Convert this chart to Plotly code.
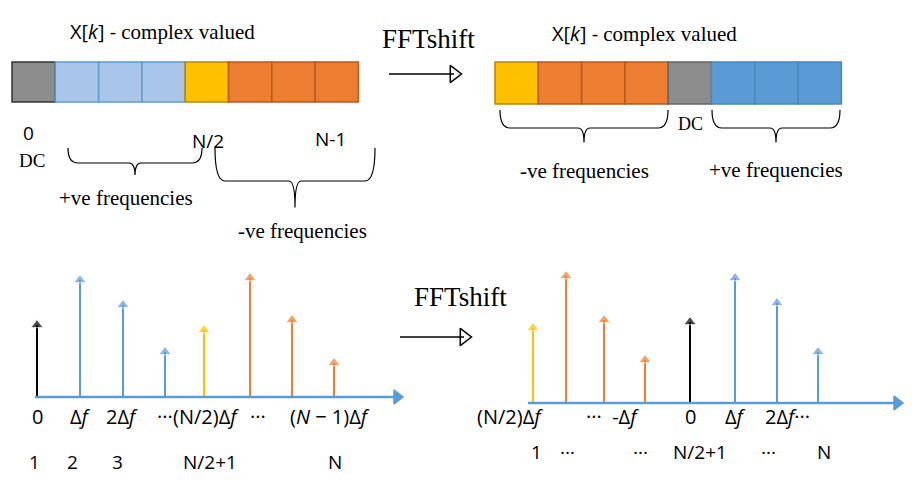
import plotly.graph_objects as go

# spectrum blocks (colour of each bin, before and after shift)
cells_before = ["#8c8c8c", "#a9c6e8", "#a9c6e8", "#a9c6e8", "#ffc000", "#ed7d31", "#ed7d31", "#ed7d31"]
cells_after = ["#ffc000", "#ed7d31", "#ed7d31", "#ed7d31", "#8c8c8c", "#5b9bd5", "#5b9bd5", "#5b9bd5"]
edges_before = ["#333333", "#5b9bd5", "#5b9bd5", "#5b9bd5", "#b8860b", "#b55a22", "#b55a22", "#b55a22"]
edges_after = ["#b8860b", "#b55a22", "#b55a22", "#b55a22", "#666666", "#4a86c0", "#4a86c0", "#4a86c0"]

# stem plots: positions and heights (pixel units)
stem_x_before = [37, 80, 123, 165, 204, 250, 292, 334]
stem_h_before = [72, 117, 92, 45, 67, 119, 77, 34]
stem_c_before = ["black", "#5b9bd5", "#5b9bd5", "#5b9bd5", "#ffc000", "#ed7d31", "#ed7d31", "#ed7d31"]
stem_x_after = [533, 566, 604, 645, 690, 735, 777, 818]
stem_h_after = [75, 127, 83, 43, 81, 125, 100, 51]
stem_c_after = ["#ffc000", "#ed7d31", "#ed7d31", "#ed7d31", "black", "#5b9bd5", "#5b9bd5", "#5b9bd5"]

SERIF = "Liberation Serif"
SANS = "Open Sans"

fig = go.Figure()
shapes = []
ann = []

def add_cells(x0, colors, edges, y0, y1, w=43.3):
    for i, (c, e) in enumerate(zip(colors, edges)):
        shapes.append(dict(type="rect", x0=x0 + i * w, x1=x0 + (i + 1) * w, y0=y0, y1=y1,
                           fillcolor=c, line=dict(color=e, width=1.5)))

add_cells(12, cells_before, edges_before, 62, 102)
add_cells(495, cells_after, edges_after, 62, 104)

def brace(x0, x1, y, d=14, up=False):
    m = (x0 + x1) / 2
    s = -1 if up else 1
    p = (f"M {x0},{y} Q {x0},{y+s*d} {x0+10},{y+s*d} L {m-6},{y+s*d} "
         f"Q {m},{y+s*d} {m},{y+s*d*1.8} Q {m},{y+s*d} {m+6},{y+s*d} "
         f"L {x1-10},{y+s*d} Q {x1},{y+s*d} {x1},{y}")
    shapes.append(dict(type="path", path=p, line=dict(color="black", width=1.2)))

brace(68, 202, 148, d=15)
brace(215, 375, 148, d=33)
brace(500, 668, 110, d=18)
brace(712, 840, 110, d=18)

def text(x, y, s, size=18, font=SERIF, color="black"):
    ann.append(dict(x=x, y=y, text=s, showarrow=False, font=dict(family=font, size=size, color=color),
                    xanchor="center", yanchor="middle"))

text(162, 31, "X[<i>k</i>] - <span style='font-family:Liberation Serif;font-size:21px'>complex valued</span>", 20, SANS)
text(644, 33, "X[<i>k</i>] - <span style='font-family:Liberation Serif;font-size:21px'>complex valued</span>", 20, SANS)
text(428, 39, "FFTshift", 27)
text(460, 297, "FFTshift", 27)
text(28, 133, "0", 19, SANS)
text(32, 160, "DC", 19)
text(208, 141, "N/2", 19, SANS)
text(330, 139, "N-1", 19, SANS)
text(126, 198, "+ve frequencies", 21)
text(302, 231, "-ve frequencies", 21)
text(690, 124, "DC", 18)
text(584, 171, "-ve frequencies", 21)
text(776, 170, "+ve frequencies", 21)

bottom_l = [(37, "0"), (80, "Δ<i>f</i>"), (122, "2Δ<i>f</i>"), (165, "···"), (206, "(N/2)Δ<i>f</i>"), (258, "···"), (330, "(<i>N</i> − 1)Δ<i>f</i>")]
for x, s in bottom_l:
    text(x, 416, s, 20, SANS)
for x, s in [(34, "1"), (72, "2"), (117, "3"), (210, "N/2+1"), (335, "N")]:
    text(x, 462, s, 19, SANS)
for x, s in [(510, "(N/2)Δ<i>f</i>"), (612, "···  -Δ<i>f</i>"), (690, "0"), (735, "Δ<i>f</i>"), (787, "2Δ<i>f</i>···")]:
    text(x, 416, s, 20, SANS)
for x, s in [(536, "1"), (567, "···"), (640, "···"), (700, "N/2+1"), (768, "···"), (824, "N")]:
    text(x, 452, s, 19, SANS)

# stems
for xs, hs, cs, base in [(stem_x_before, stem_h_before, stem_c_before, 397),
                         (stem_x_after, stem_h_after, stem_c_after, 403)]:
    for x, h, c in zip(xs, hs, cs):
        fig.add_trace(go.Scatter(x=[x, x], y=[base, base - h], mode="lines+markers",
                                 line=dict(color=c, width=2),
                                 marker=dict(symbol=["line-ew", "triangle-up"], size=[0, 11], color=c)))

# axes and shift arrows
for x0, x1, y, c in [(35, 403, 397, "#5b9bd5"), (528, 903, 403, "#5b9bd5"),
                     (389, 460, 74, "black"), (400, 470, 337, "black")]:
    fig.add_trace(go.Scatter(x=[x0, x1 - 6], y=[y, y], mode="lines", line=dict(color=c, width=2.5 if c != "black" else 1.5)))
    fig.add_trace(go.Scatter(x=[x1 - 6], y=[y], mode="markers",
                             marker=dict(symbol="triangle-right" if c != "black" else "triangle-right-open",
                                         size=12 if c != "black" else 15, color=c, line=dict(color=c, width=1.5))))

# page body has an 8px margin, so the figure covers pixels 8..918 / 8..480
fig.update_layout(width=910, height=472, margin=dict(l=0, r=0, t=0, b=0),
                  plot_bgcolor="white", paper_bgcolor="white", showlegend=False,
                  shapes=shapes, annotations=ann,
                  xaxis=dict(range=[8, 918], visible=False, fixedrange=True),
                  yaxis=dict(range=[480, 8], visible=False, fixedrange=True))
fig.write_html("out.html")
